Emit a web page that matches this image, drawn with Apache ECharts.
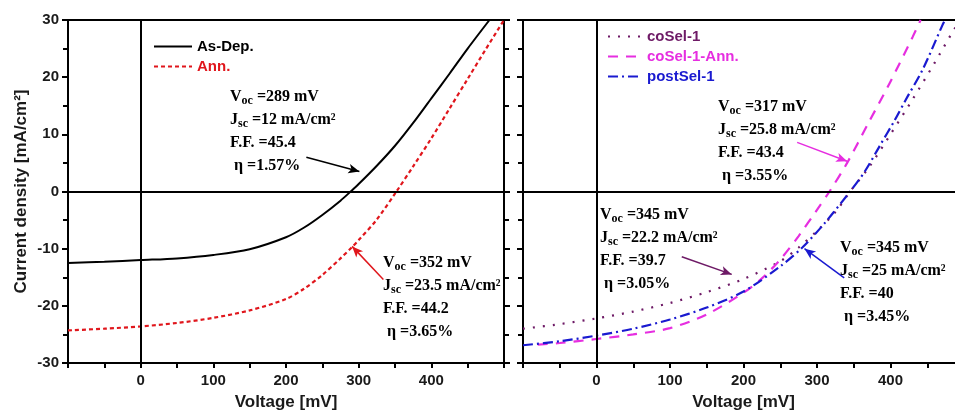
<!DOCTYPE html>
<html>
<head>
<meta charset="utf-8">
<script src="https://cdn.jsdelivr.net/npm/echarts@6/dist/echarts.min.js"></script>
<style>
  html, body { margin: 0; padding: 0; background: #fff; }
  #chart { width: 955px; height: 412px; }
</style>
</head>
<body>
<div id="chart"></div>
<script>
// left panel
var asDepV = [-100, -50, 0, 50, 100, 150, 200, 225, 250, 275, 289, 300, 325, 350, 375, 400, 425, 450, 480];
var asDepJ = [-12.5, -12.3, -12.0, -11.7, -11.1, -10.1, -8.0, -6.3, -4.1, -1.6, 0, 1.3, 4.5, 8.0, 12.0, 16.3, 20.6, 25.0, 30];
var annV = [-100, -50, 0, 50, 100, 150, 200, 225, 250, 275, 291, 300, 325, 352, 375, 400, 425, 450, 475, 500];
var annJ = [-24.3, -24.0, -23.6, -23.0, -22.1, -20.8, -18.8, -17.0, -14.6, -11.7, -9.7, -8.5, -4.9, 0, 4.4, 9.3, 14.5, 19.7, 24.9, 30];

// right panel
var coSelV = [-100, -50, 0, 50, 100, 150, 200, 250, 275, 300, 325, 345, 370, 400, 430, 460, 484, 495];
var coSelJ = [-24.0, -23.2, -22.2, -21.0, -19.5, -17.6, -15.3, -12.2, -9.8, -6.9, -3.6, 0, 4.1, 10.0, 16.1, 22.5, 27.8, 30];
var coSelAnnV = [-80, -50, 0, 50, 100, 150, 200, 225, 250, 275, 300, 317, 341, 370, 399, 430, 441];
var coSelAnnJ = [-26.8, -26.5, -25.8, -25.0, -23.9, -21.5, -17.7, -15.2, -11.9, -7.8, -3.2, 0, 5.0, 12.0, 19.0, 27.0, 30];
var postSelV = [-100, -50, 0, 50, 100, 150, 200, 250, 280, 310, 345, 365, 385, 405, 421, 444, 471, 474];
var postSelJ = [-26.9, -26.2, -25.2, -24.0, -22.4, -20.3, -17.5, -13.1, -9.8, -5.6, 0, 3.5, 7.9, 12.3, 16.1, 21.4, 29.2, 30];

var xTickLabels = [0, 100, 200, 300, 400];

// arrows [from, to] in data coords
var arrowsLeft = [
  { from: [228, 6.0], to: [301, 3.5], color: '#000' },
  { from: [334, -15.4], to: [291, -9.6], color: '#e0161c' }
];
var arrowsRight = [
  { from: [273, 8.6], to: [341, 5.3], color: '#e62ee0' },
  { from: [116, -11.4], to: [184, -14.5], color: '#6e1a66' },
  { from: [337, -15.1], to: [283, -10.0], color: '#1a1ad0' }
];

function zip(a, b) {
  return a.map(function (v, i) { return [v, b[i]]; });
}

var tickFont = { fontFamily: 'Liberation Sans, Arial', fontWeight: 'bold', fontSize: 15, color: '#1a1a1a' };
var nameFont = { fontFamily: 'Liberation Sans, Arial', fontWeight: 'bold', fontSize: 17, color: '#1a1a1a' };

function xAxis(idx) {
  return {
    type: 'value', gridIndex: idx, min: -100, max: 500, interval: 100,
    name: 'Voltage [mV]', nameLocation: 'middle', nameGap: 31, nameTextStyle: nameFont,
    axisLine: { show: false, onZero: false },
    axisTick: { show: true, length: 5, lineStyle: { color: '#000', width: 2 } },
    minorTick: { show: true, splitNumber: 2, length: 5, lineStyle: { color: '#000', width: 2 } },
    splitLine: { show: false },
    axisLabel: Object.assign({ margin: 10, formatter: function (v) {
      return xTickLabels.indexOf(v) >= 0 ? String(v) : '';
    } }, tickFont)
  };
}

function yAxis(idx, pos, labels) {
  var ax = {
    type: 'value', gridIndex: idx, min: -30, max: 30, interval: 10, position: pos,
    axisLine: { show: false, onZero: false },
    axisTick: { show: true, length: 6, lineStyle: { color: '#000', width: 2 } },
    minorTick: { show: true, splitNumber: 2, length: 5, lineStyle: { color: '#000', width: 2 } },
    splitLine: { show: false },
    axisLabel: Object.assign({ show: labels, margin: 9 }, tickFont)
  };
  if (labels) {
    ax.name = 'Current density [mA/cm\u00b2]';
    ax.nameLocation = 'middle';
    ax.nameGap = 38;
    ax.nameRotate = 90;
    ax.nameTextStyle = nameFont;
  }
  return ax;
}

function refLines(arrows) {
  var d = [
    { xAxis: 0, lineStyle: { color: '#000', width: 2, type: 'solid' } },
    { yAxis: 0, lineStyle: { color: '#000', width: 2, type: 'solid' } }
  ];
  arrows.forEach(function (a) {
    d.push([
      { coord: a.from, symbol: 'none', lineStyle: { color: a.color, width: 1.5, type: 'solid' } },
      { coord: a.to, symbol: 'arrow', symbolSize: [7, 11] }
    ]);
  });
  return { silent: true, symbol: ['none', 'none'], label: { show: false }, data: d, animation: false };
}

function lineSeries(name, x, y, xi, yi, color, dash, width, mark) {
  var s = {
    name: name, type: 'line', xAxisIndex: xi, yAxisIndex: yi,
    data: zip(x, y), showSymbol: false, symbol: 'none', smooth: 0.3,
    lineStyle: { color: color, width: width, type: dash },
    itemStyle: { color: color },
    z: 3
  };
  if (mark) s.markLine = mark;
  return s;
}

var serif = 'Liberation Serif, Times New Roman, serif';
function richFor(color) {
  return {
    m: { fontFamily: serif, fontWeight: 'bold', fontSize: 16, color: color, lineHeight: 23 },
    s: { fontFamily: serif, fontWeight: 'bold', fontSize: 12, color: color, lineHeight: 23, padding: [9, 0, 0, 0] }
  };
}
function block(x, y, color, voc, jsc, ff, eta) {
  return {
    type: 'text', left: x, top: y, z: 10,
    style: {
      text: '{m|V}{s|oc}{m| =' + voc + ' mV}\n{m|J}{s|sc}{m| =' + jsc + ' mA/cm\u00b2}\n{m|F.F. =' + ff + '}\n{m| \u03b7 =' + eta + '%}',
      rich: richFor(color)
    }
  };
}

var legendText = { fontFamily: 'Liberation Sans, Arial', fontWeight: 'bold', fontSize: 15 };

var chart = echarts.init(document.getElementById('chart'), null, { renderer: 'canvas' });
chart.setOption({
  animation: false,
  backgroundColor: '#fff',
  grid: [
    { left: 68, top: 20, width: 436, height: 343, show: true, borderColor: '#000', borderWidth: 2, backgroundColor: 'transparent', outerBoundsMode: 'none', containLabel: false },
    { left: 523, top: 20, width: 441, height: 343, show: true, borderColor: '#000', borderWidth: 2, backgroundColor: 'transparent', outerBoundsMode: 'none', containLabel: false }
  ],
  xAxis: [xAxis(0), xAxis(1)],
  yAxis: [yAxis(0, 'left', true), yAxis(0, 'right', false), yAxis(1, 'left', false)],
  legend: [
    {
      left: 148, top: 34, orient: 'vertical', itemWidth: 38, itemHeight: 12, itemGap: 5,
      itemStyle: { opacity: 0 },
      textStyle: legendText,
      data: [
        { name: 'As-Dep.', textStyle: { color: '#000' } },
        { name: 'Ann.', textStyle: { color: '#e0161c' } }
      ]
    },
    {
      left: 602, top: 24, orient: 'vertical', itemWidth: 34, itemHeight: 12, itemGap: 5,
      itemStyle: { opacity: 0 },
      textStyle: legendText,
      data: [
        { name: 'coSel-1', textStyle: { color: '#6e1a66' } },
        { name: 'coSel-1-Ann.', textStyle: { color: '#e62ee0' } },
        { name: 'postSel-1', textStyle: { color: '#1a1ad0' } }
      ]
    }
  ],
  series: [
    lineSeries('As-Dep.', asDepV, asDepJ, 0, 0, '#000', 'solid', 2, refLines(arrowsLeft)),
    lineSeries('Ann.', annV, annJ, 0, 0, '#e0161c', [4, 3], 2.2),
    lineSeries('coSel-1', coSelV, coSelJ, 1, 2, '#6e1a66', [2, 8], 2.2, refLines(arrowsRight)),
    lineSeries('coSel-1-Ann.', coSelAnnV, coSelAnnJ, 1, 2, '#e62ee0', [10, 8], 2.2),
    lineSeries('postSel-1', postSelV, postSelJ, 1, 2, '#1a1ad0', [10, 4, 2, 4], 2.2)
  ],
  graphic: [
    block(230, 86, '#000', 289, 12, 45.4, 1.57),
    block(383, 252, '#e0161c', 352, 23.5, 44.2, 3.65),
    block(718, 96, '#e62ee0', 317, 25.8, 43.4, 3.55),
    block(600, 204, '#6e1a66', 345, 22.2, 39.7, 3.05),
    block(840, 237, '#1a1ad0', 345, 25, 40, 3.45)
  ]
});
</script>
</body>
</html>
